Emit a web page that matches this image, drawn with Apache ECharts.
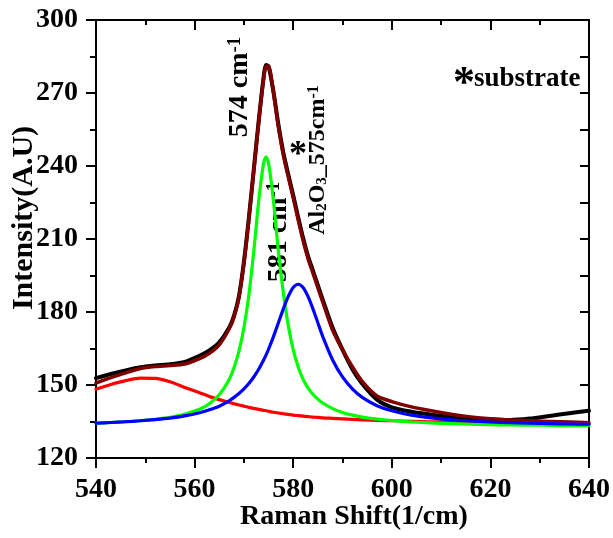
<!DOCTYPE html>
<html>
<head>
<meta charset="utf-8">
<script src="https://cdn.jsdelivr.net/npm/echarts@6/dist/echarts.min.js"></script>
<style>
html,body{margin:0;padding:0;background:#fff;}
#chart{width:613px;height:538px;}
</style>
</head>
<body>
<div id="chart"></div>
<script>
const ramanShift = [540,543,546,549,552,555,558,561,563,565,567,568,569,570,571,572,573,574,574.5,575,576,577,578,579,580,581,582,583,584,585,586,588,590,592,594,597,600,604,608,612,616,620,624,628,632,636,640];
const measured = [152.8,154.5,156.0,157.3,158.0,158.5,159.5,162.0,164.2,167.5,173.5,178.5,186.5,200.5,218.5,238.5,258.5,276.5,281.5,281.0,270.5,257.0,245.5,236.5,228.0,219.0,210.5,203.0,197.0,191.0,185.0,173.5,164.5,156.5,150.5,144.0,140.8,139.0,137.8,136.9,136.2,135.8,135.6,136.2,137.3,138.4,139.4];
const fitSum = [150.8,153.0,155.0,156.8,157.6,158.0,158.6,160.8,163.0,166.5,173.0,178.0,186.0,200.0,218.0,238.0,258.0,276.0,281.0,281.0,270.0,256.0,244.5,235.5,227.0,218.0,209.5,202.0,196.0,190.0,184.0,172.5,164.5,157.5,151.5,145.5,143.2,141.0,139.4,138.0,136.9,136.1,135.6,135.3,135.0,134.8,134.5];
const peak550 = [148.3,150.2,151.8,152.8,152.7,151.3,149.0,146.8,145.3,144.0,142.8,142.3,141.8,141.3,140.8,140.4,140.0,139.6,139.4,139.2,138.8,138.5,138.2,137.9,137.6,137.4,137.2,137.0,136.8,136.7,136.5,136.3,136.1,135.9,135.7,135.5,135.3,135.1,134.9,134.8,134.7,134.6,134.4,134.3,134.2,134.1,134.0];
const peak574 = [134.3,134.6,134.9,135.3,135.9,136.7,138.0,140.0,142.3,146.0,152.2,157.2,163.9,173.5,186.9,204.9,225.6,241.2,243.8,241.2,225.6,204.9,188.0,174.5,164.5,157.5,152.4,148.8,146.2,144.2,142.6,140.3,138.7,137.6,136.8,136.0,135.4,134.8,134.4,134.1,133.9,133.7,133.6,133.5,133.4,133.3,133.3];
const peak581 = [134.3,134.6,134.9,135.3,135.8,136.4,137.3,138.6,139.8,141.3,143.5,144.9,146.5,148.4,150.6,153.3,156.5,160.3,162.4,164.7,169.9,175.6,181.3,186.4,190.1,191.4,190.1,186.4,181.3,175.6,169.9,160.3,153.3,148.4,144.9,141.5,139.4,137.6,136.5,135.7,135.2,134.8,134.5,134.3,134.1,134.0,133.9];
const xTicks = {min:540, max:640, interval:20};
const yTicks = {min:120, max:300, interval:30};

const pairs = arr => ramanShift.map((x,i)=>[x, arr[i]]);
const FONT = '"Liberation Serif","Times New Roman",serif';

const chart = echarts.init(document.getElementById('chart'), null, {renderer:'canvas'});

function line(name, arr, color, width){
  return {name:name, type:'line', data:pairs(arr), showSymbol:false, smooth:0.25,
    lineStyle:{color:color, width:width, join:'round', cap:'round'}, itemStyle:{color:color}, animation:false, z:2};
}

const axisLine = {show:true, onZero:false, lineStyle:{color:'#000', width:2}};

chart.setOption({
  backgroundColor:'#fff',
  animation:false,
  grid:{left:96, right:21, top:20, bottom:80, containLabel:false},
  xAxis:[
    {type:'value', position:'bottom', min:xTicks.min, max:xTicks.max, interval:xTicks.interval,
     axisLine:axisLine, splitLine:{show:false},
     axisTick:{show:true, inside:false, length:10, lineStyle:{color:'#000', width:2}},
     minorTick:{show:true, splitNumber:2, length:5, lineStyle:{color:'#000', width:2}},
     axisLabel:{show:true, margin:18, fontFamily:FONT, fontWeight:'bold', fontSize:28, color:'#000'}},
    {type:'value', position:'top', min:xTicks.min, max:xTicks.max, interval:xTicks.interval,
     axisLine:axisLine, splitLine:{show:false},
     axisTick:{show:true, inside:true, length:10, lineStyle:{color:'#000', width:2}},
     minorTick:{show:true, splitNumber:2, length:5, lineStyle:{color:'#000', width:2}},
     axisLabel:{show:false}}
  ],
  yAxis:[
    {type:'value', position:'left', min:yTicks.min, max:yTicks.max, interval:yTicks.interval,
     axisLine:axisLine, splitLine:{show:false},
     axisTick:{show:true, inside:false, length:10, lineStyle:{color:'#000', width:2}},
     minorTick:{show:true, splitNumber:2, length:6, lineStyle:{color:'#000', width:2}},
     axisLabel:{show:true, margin:18, fontFamily:FONT, fontWeight:'bold', fontSize:28, color:'#000'}},
    {type:'value', position:'right', min:yTicks.min, max:yTicks.max, interval:yTicks.interval,
     axisLine:axisLine, splitLine:{show:false},
     axisTick:{show:true, inside:true, length:9, lineStyle:{color:'#000', width:2}},
     minorTick:{show:true, splitNumber:2, length:9, lineStyle:{color:'#000', width:2}},
     axisLabel:{show:false}}
  ],
  series:[
    line('Measured', measured, '#000000', 4),
    line('Cumulative fit', fitSum, '#800000', 3.5),
    line('Peak 550', peak550, '#ff0000', 3.2),
    line('Peak 574', peak574, '#00ff00', 3.2),
    line('Peak 581', peak581, '#0000ff', 3.2)
  ],
  graphic:[
    {type:'text', x:354, y:517, style:{text:'Raman Shift(1/cm)', font:'bold 28px '+FONT, fill:'#000', align:'center', verticalAlign:'middle'}},
    {type:'text', x:24, y:218, rotation:Math.PI/2, style:{text:'Intensity(A.U)', font:'bold 30px '+FONT, fill:'#000', align:'center', verticalAlign:'middle'}},
    {type:'text', x:240, y:87, rotation:Math.PI/2, style:{
      text:'{a|574 cm}{s|-1}', align:'center', verticalAlign:'middle', fill:'#000',
      rich:{a:{fontFamily:FONT, fontWeight:'bold', fontSize:28, fill:'#000', verticalAlign:'bottom'},
            s:{fontFamily:FONT, fontWeight:'bold', fontSize:19, fill:'#000', verticalAlign:'top'}}}},
    {type:'text', x:279, y:232, rotation:Math.PI/2, style:{
      text:'{a|581 cm}{s|-1}', align:'center', verticalAlign:'middle', fill:'#000',
      rich:{a:{fontFamily:FONT, fontWeight:'bold', fontSize:28, fill:'#000', verticalAlign:'bottom'},
            s:{fontFamily:FONT, fontWeight:'bold', fontSize:19, fill:'#000', verticalAlign:'top'}}}},
    {type:'text', x:318, y:160, rotation:Math.PI/2, style:{
      text:'{a|Al}{b|2}{a|O}{b|3}{a|_575cm}{s|-1}', align:'center', verticalAlign:'middle', fill:'#000',
      rich:{a:{fontFamily:FONT, fontWeight:'bold', fontSize:24, fill:'#000', verticalAlign:'middle'},
            b:{fontFamily:FONT, fontWeight:'bold', fontSize:15, fill:'#000', verticalAlign:'bottom'},
            s:{fontFamily:FONT, fontWeight:'bold', fontSize:16, fill:'#000', verticalAlign:'top'}}}},
    {type:'text', x:298, y:156, style:{text:'*', font:'bold 36px '+FONT, fill:'#000', align:'center', verticalAlign:'middle'}},
    {type:'text', x:464, y:85, style:{text:'*', font:'bold 44px '+FONT, fill:'#000', align:'center', verticalAlign:'middle'}},
    {type:'text', x:474, y:79, style:{text:'substrate', font:'bold 27px '+FONT, fill:'#000', align:'left', verticalAlign:'middle'}}
  ]
});
</script>
</body>
</html>
